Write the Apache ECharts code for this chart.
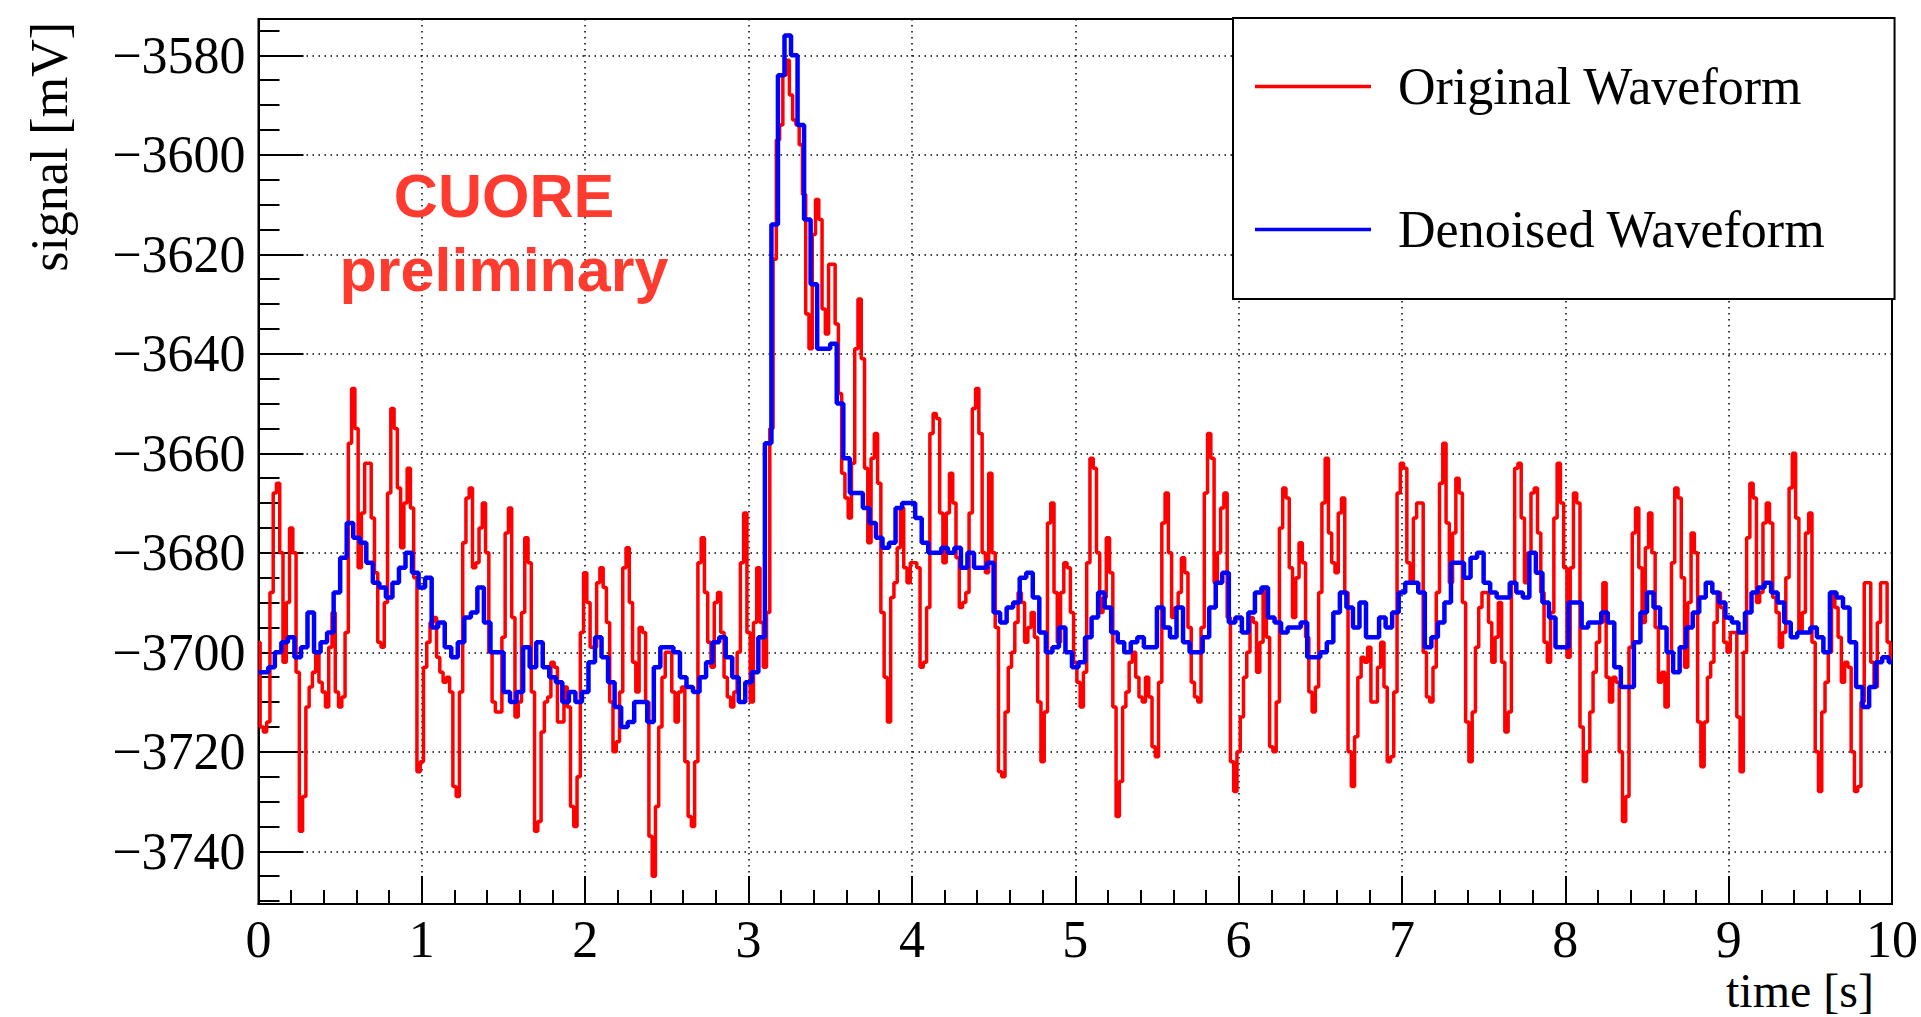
<!DOCTYPE html>
<html><head><meta charset="utf-8">
<script src="https://cdn.jsdelivr.net/npm/echarts@6/dist/echarts.min.js"></script>
<style>html,body{margin:0;padding:0;background:#fff;}#c{width:1921px;height:1017px;}</style>
</head><body><div id="c"></div>
<script>
// ---- data ----
const xRange = [0, 10];          // time [s]
const yRange = [-3750.6, -3572.7]; // signal [mV]
const legendNames = ['Original Waveform', 'Denoised Waveform'];

// Original waveform, one sample every 0.02 s from t = 0 to 10 s
const redStep = 0.02;
const redValues = [
-3698,-3715,-3716,-3714,-3688,-3668,-3666,-3680,-3702,-3690,
-3675,-3680,-3704,-3736,-3729,-3711,-3707,-3704,-3700,-3706,
-3708,-3711,-3699,-3692,-3708,-3711,-3709,-3696,-3658,-3647,
-3655,-3683,-3672,-3662,-3662,-3673,-3684,-3698,-3699,-3690,
-3668,-3651,-3655,-3667,-3679,-3670,-3663,-3671,-3685,-3724,
-3722,-3703,-3698,-3694,-3693,-3701,-3704,-3706,-3705,-3708,
-3727,-3729,-3708,-3678,-3669,-3667,-3683,-3682,-3675,-3670,
-3680,-3700,-3710,-3712,-3712,-3697,-3676,-3671,-3693,-3713,
-3710,-3692,-3677,-3682,-3708,-3736,-3734,-3716,-3710,-3709,
-3702,-3703,-3714,-3714,-3707,-3711,-3731,-3735,-3725,-3696,
-3684,-3690,-3699,-3699,-3686,-3683,-3687,-3694,-3710,-3720,
-3718,-3708,-3683,-3679,-3690,-3702,-3708,-3695,-3696,-3710,
-3737,-3745,-3731,-3715,-3705,-3700,-3700,-3708,-3714,-3708,
-3707,-3722,-3733,-3735,-3722,-3682,-3677,-3688,-3698,-3703,
-3690,-3688,-3696,-3705,-3709,-3711,-3708,-3700,-3682,-3672,
-3696,-3710,-3694,-3683,-3694,-3703,-3692,-3655,-3621,-3597,
-3594,-3584,-3581,-3588,-3593,-3594,-3598,-3608,-3632,-3639,
-3616,-3609,-3613,-3631,-3636,-3622,-3622,-3634,-3648,-3664,
-3669,-3673,-3662,-3639,-3629,-3641,-3663,-3678,-3661,-3656,
-3666,-3692,-3705,-3714,-3689,-3686,-3679,-3671,-3683,-3686,
-3682,-3682,-3683,-3703,-3702,-3691,-3656,-3652,-3653,-3672,
-3682,-3672,-3664,-3670,-3681,-3691,-3690,-3688,-3672,-3651,
-3647,-3656,-3680,-3684,-3664,-3680,-3695,-3724,-3725,-3712,
-3703,-3700,-3694,-3688,-3690,-3698,-3695,-3692,-3697,-3710,
-3722,-3712,-3674,-3670,-3688,-3698,-3688,-3682,-3683,-3692,
-3702,-3706,-3711,-3704,-3682,-3661,-3663,-3680,-3692,-3689,
-3677,-3684,-3711,-3733,-3726,-3711,-3708,-3702,-3700,-3705,
-3709,-3710,-3705,-3709,-3719,-3721,-3706,-3674,-3668,-3680,
-3693,-3691,-3688,-3681,-3684,-3695,-3706,-3709,-3710,-3695,
-3668,-3656,-3661,-3686,-3680,-3671,-3668,-3693,-3722,-3728,
-3720,-3713,-3705,-3700,-3693,-3694,-3704,-3698,-3687,-3697,
-3719,-3720,-3710,-3675,-3667,-3669,-3683,-3693,-3685,-3678,
-3682,-3697,-3708,-3712,-3707,-3688,-3670,-3661,-3676,-3682,
-3684,-3672,-3669,-3688,-3720,-3727,-3717,-3705,-3701,-3702,
-3699,-3710,-3710,-3703,-3698,-3707,-3722,-3721,-3708,-3668,
-3662,-3663,-3682,-3686,-3673,-3670,-3670,-3700,-3709,-3710,
-3703,-3688,-3666,-3658,-3674,-3686,-3676,-3665,-3668,-3690,
-3714,-3722,-3712,-3699,-3691,-3688,-3688,-3694,-3702,-3697,
-3690,-3702,-3716,-3712,-3686,-3663,-3662,-3673,-3686,-3680,
-3668,-3667,-3676,-3688,-3698,-3702,-3692,-3673,-3662,-3670,
-3683,-3701,-3683,-3668,-3670,-3715,-3726,-3720,-3712,-3704,
-3698,-3694,-3686,-3705,-3710,-3705,-3706,-3720,-3734,-3729,
-3699,-3676,-3671,-3683,-3694,-3679,-3672,-3680,-3695,-3706,
-3704,-3711,-3700,-3682,-3667,-3669,-3685,-3703,-3690,-3676,
-3680,-3714,-3723,-3714,-3705,-3702,-3694,-3688,-3691,-3698,
-3700,-3696,-3696,-3713,-3724,-3700,-3677,-3666,-3669,-3690,
-3688,-3674,-3670,-3674,-3689,-3692,-3699,-3696,-3685,-3667,
-3660,-3673,-3696,-3692,-3676,-3672,-3698,-3720,-3728,-3712,
-3706,-3700,-3688,-3691,-3697,-3706,-3702,-3703,-3720,-3728,
-3727,-3710,-3686,-3686,-3702,-3707,-3694,-3686,-3686,-3698,
-3702
];

// Denoised waveform, one sample every 0.04 s from t = 0 to 10 s
const blueStep = 0.04;
const blueValues = [
-3704,-3704,-3703,-3700,-3698,-3697,-3701,-3699,-3692,-3700,-3698,-3696,-3688,-3681,-3674,-3677,-3678,-3682,-3686,-3687,-3689,-3686,-3683,-3680,-3684,
-3687,-3685,-3695,-3694,-3699,-3701,-3698,-3693,-3692,-3687,-3694,-3700,-3700,-3708,-3710,-3708,-3699,-3703,-3698,-3703,-3705,-3706,-3710,-3708,-3710,
-3708,-3702,-3697,-3701,-3706,-3711,-3715,-3714,-3710,-3710,-3714,-3703,-3699,-3699,-3700,-3705,-3707,-3708,-3705,-3702,-3698,-3697,-3701,-3705,-3710,
-3706,-3704,-3697,-3658,-3614,-3584,-3576,-3580,-3594,-3613,-3626,-3639,-3639,-3638,-3650,-3661,-3668,-3668,-3671,-3674,-3677,-3679,-3678,-3671,-3670,
-3670,-3673,-3678,-3680,-3680,-3679,-3680,-3679,-3683,-3680,-3683,-3683,-3682,-3692,-3694,-3691,-3690,-3685,-3684,-3689,-3696,-3700,-3699,-3695,-3700,
-3703,-3702,-3697,-3693,-3688,-3691,-3696,-3698,-3700,-3698,-3697,-3699,-3699,-3691,-3695,-3697,-3691,-3698,-3700,-3700,-3697,-3691,-3686,-3684,-3694,
-3693,-3696,-3692,-3688,-3687,-3693,-3694,-3696,-3695,-3695,-3694,-3701,-3701,-3700,-3698,-3692,-3688,-3691,-3695,-3690,-3697,-3697,-3693,-3695,-3692,
-3688,-3686,-3686,-3688,-3699,-3697,-3694,-3690,-3682,-3682,-3685,-3681,-3680,-3686,-3688,-3689,-3689,-3686,-3688,-3689,-3680,-3684,-3690,-3693,-3699,
-3699,-3690,-3690,-3695,-3694,-3694,-3692,-3694,-3703,-3707,-3707,-3698,-3692,-3688,-3691,-3695,-3700,-3704,-3699,-3695,-3692,-3689,-3686,-3688,-3690,
-3693,-3694,-3696,-3692,-3688,-3687,-3686,-3688,-3690,-3694,-3697,-3696,-3696,-3695,-3697,-3700,-3688,-3689,-3691,-3698,-3707,-3711,-3707,-3702,-3701,
-3702
];

// ---- build series data ----
function toPairs(values, step) {
  return values.map((v, i) => [Math.round(i * step * 1000) / 1000, v]);
}
const redData = toPairs(redValues, redStep);
const blueData = toPairs(blueValues, blueStep);

const serif = '"Liberation Serif", "Times New Roman", Times, serif';
const sans = '"Liberation Sans", Arial, Helvetica, sans-serif';
const minusFmt = v => String(v).replace('-', '\u2212');

const chart = echarts.init(document.getElementById('c'), null, {renderer: 'svg', width: 1921, height: 1017});
chart.setOption({
  animation: false,
  backgroundColor: '#ffffff',
  grid: {left: 258.5, right: 28.5, top: 19, bottom: 113, show: true,
         borderColor: '#000', borderWidth: 2, backgroundColor: 'transparent', containLabel: false},
  xAxis: {
    type: 'value', min: xRange[0], max: xRange[1], interval: 1,
    axisLine: {show: true, onZero: false, lineStyle: {color: '#000', width: 2}},
    axisTick: {show: true, inside: true, length: 28, lineStyle: {color: '#000', width: 2}},
    minorTick: {show: true, splitNumber: 5, length: 14, lineStyle: {color: '#000', width: 2}},
    splitLine: {show: true, lineStyle: {color: '#000', width: 1.5, type: [1.5, 4.5]}},
    axisLabel: {color: '#000', fontFamily: serif, fontSize: 52, margin: 9}
  },
  yAxis: {
    type: 'value', min: yRange[0], max: yRange[1], splitNumber: 9,
    axisLine: {show: true, onZero: false, lineStyle: {color: '#000', width: 2}},
    axisTick: {show: true, inside: true, length: 45, lineStyle: {color: '#000', width: 2}},
    minorTick: {show: true, splitNumber: 4, length: 21, lineStyle: {color: '#000', width: 2}},
    splitLine: {show: true, lineStyle: {color: '#000', width: 1.5, type: [1.5, 4.5]}},
    axisLabel: {color: '#000', fontFamily: serif, fontSize: 52, margin: 13,
                showMinLabel: false, showMaxLabel: false, formatter: minusFmt}
  },
  legend: {
    orient: 'vertical', left: 1233, top: 18,
    backgroundColor: '#fff', borderColor: '#000', borderWidth: 2, borderRadius: 0,
    padding: [38, 69, 39, 22], itemGap: 82, itemWidth: 116, itemHeight: 3.5, icon: 'rect',
    textStyle: {fontFamily: serif, fontSize: 52, color: '#000', lineHeight: 61, padding: [0, 0, 0, 22]},
    data: legendNames
  },
  graphic: [
    {type: 'text', x: 49, y: 22, rotation: Math.PI / 2,
     style: {text: 'signal [mV]', fontFamily: serif, fontSize: 52, fill: '#000', align: 'right', verticalAlign: 'middle'}},
    {type: 'text', x: 1874, y: 990,
     style: {text: 'time [s]', fontFamily: serif, fontSize: 48, fill: '#000', align: 'right', verticalAlign: 'middle'}},
    {type: 'text', x: 504, y: 196, z: 10,
     style: {text: 'CUORE', fontFamily: sans, fontWeight: 'bold', fontSize: 61, fill: '#ff3b30', align: 'center', verticalAlign: 'middle'}},
    {type: 'text', x: 504, y: 270, z: 10,
     style: {text: 'preliminary', fontFamily: sans, fontWeight: 'bold', fontSize: 61, fill: '#ff3b30', align: 'center', verticalAlign: 'middle'}}
  ],
  series: [
    {name: legendNames[0], type: 'line', data: redData, step: 'middle', showSymbol: false, symbol: 'none',
     color: '#ff0000', lineStyle: {color: '#ff0000', width: 3.5}, silent: true, clip: true},
    {name: legendNames[1], type: 'line', data: blueData, step: 'middle', showSymbol: false, symbol: 'none',
     color: '#0000ff', lineStyle: {color: '#0000ff', width: 4.5}, silent: true, clip: true}
  ]
});
</script>
</body></html>
